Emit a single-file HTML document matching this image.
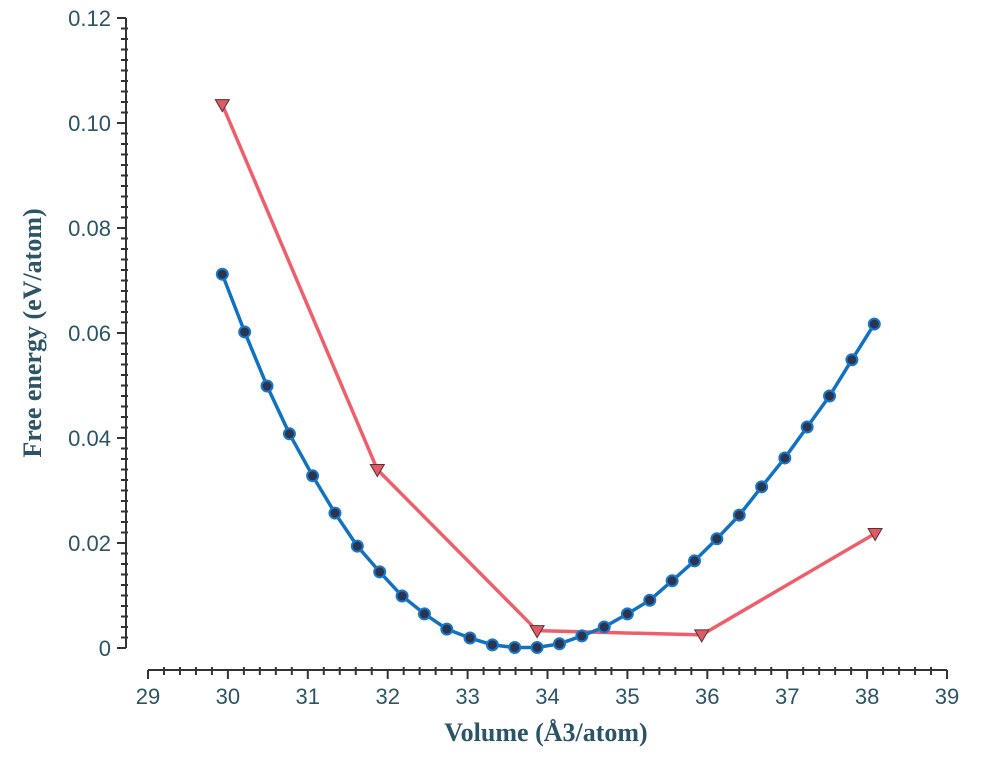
<!DOCTYPE html>
<html><head><meta charset="utf-8"><style>
html,body{margin:0;padding:0;background:#fff;width:1000px;height:758px;overflow:hidden}
svg text{fill:#2b5566}
.tick{font-family:"Liberation Sans",sans-serif;font-size:22px}
.title{font-family:"Liberation Serif",serif;font-size:26px;font-weight:bold}
</style></head><body>
<svg id="chart" width="1000" height="758" xmlns="http://www.w3.org/2000/svg">
<g id="axes"></g>
<g id="series"></g>
<text class="title" x="546" y="741" text-anchor="middle">Volume (Å3/atom)</text>
<text class="title" transform="translate(41,333) rotate(-90)" text-anchor="middle">Free energy (eV/atom)</text>
</svg>
<script>
const xTicks = [29,30,31,32,33,34,35,36,37,38,39];
const yTicks = [0,0.02,0.04,0.06,0.08,0.10,0.12];
const yTickLabels = ["0","0.02","0.04","0.06","0.08","0.10","0.12"];
const blueX = [29.93,30.21,30.49,30.77,31.06,31.34,31.62,31.9,32.18,32.46,32.74,33.03,33.31,33.59,33.87,34.15,34.43,34.71,35.0,35.28,35.56,35.84,36.12,36.4,36.68,36.97,37.25,37.53,37.81,38.09];
const blueY = [0.0712,0.0602,0.0499,0.0408,0.0328,0.0257,0.0194,0.0145,0.0099,0.0065,0.0036,0.0019,0.0006,0.0001,0.0001,0.0008,0.0023,0.0040,0.0065,0.0091,0.0128,0.0166,0.0208,0.0253,0.0307,0.0362,0.0421,0.0480,0.0549,0.0617];
const redX = [29.93,31.87,33.87,35.93,38.1];
const redY = [0.1035,0.034,0.0033,0.0025,0.0218];

const NS="http://www.w3.org/2000/svg";
const sx = v => 148 + (v-29)*79.9;
const sy = v => 648 - v*5250;
function mk(tag, attrs, parent){const e=document.createElementNS(NS,tag);for(const k in attrs)e.setAttribute(k,attrs[k]);parent.appendChild(e);return e;}
const axes=document.getElementById('axes'), ser=document.getElementById('series');

let xa=mk('line',{x1:sx(29),x2:sx(39),y1:670,y2:670,stroke:'#333','stroke-width':2},axes);


for(let v=29; v<=39.001; v+=0.2){
  const major=Math.abs(v-Math.round(v))<0.01;
  mk('line',{x1:sx(v),x2:sx(v),y1:major?670:667,y2:major?679:675,stroke:'#333','stroke-width':2},axes);
}
xTicks.forEach(t=>{
  const e=mk('text',{x:sx(t),y:704,'text-anchor':'middle',class:'tick'},axes);
  e.textContent=t;
  
  
});
let ya=mk('line',{x1:126,x2:126,y1:sy(0.12),y2:sy(0),stroke:'#333','stroke-width':2},axes);


for(let i=0;i<=60;i++){
  const v=i*0.002, major=i%10===0;
  mk('line',{x1:major?117:121,x2:major?126:128,y1:sy(v),y2:sy(v),stroke:'#333','stroke-width':2},axes);
}
yTicks.forEach((t,i)=>{
  const e=mk('text',{x:111,y:sy(t)+8,'text-anchor':'end',class:'tick'},axes);
  e.textContent=yTickLabels[i];
  
  
});
const rl=mk('polyline',{points:redX.map((x,i)=>sx(x)+','+sy(redY[i])).join(' '),fill:'none',stroke:'#ef5f6b','stroke-width':3.5},ser);


const bl=mk('polyline',{points:blueX.map((x,i)=>sx(x)+','+sy(blueY[i])).join(' '),fill:'none',stroke:'#1172c2','stroke-width':3.5},ser);


blueX.forEach((x,i)=>{
  const c=mk('circle',{cx:sx(x),cy:sy(blueY[i]),r:5.5,fill:'#2b3552',stroke:'#1a78c8','stroke-width':2},ser);
  
  
});
redX.forEach((x,i)=>{
  const px=sx(x), py=sy(redY[i]);
  const t=mk('polygon',{points:`${px-7},${py-5} ${px+7},${py-5} ${px},${py+7}`,fill:'#e05a66',stroke:'#553333','stroke-width':1},ser);
  
  
});
</script>
</body></html>
